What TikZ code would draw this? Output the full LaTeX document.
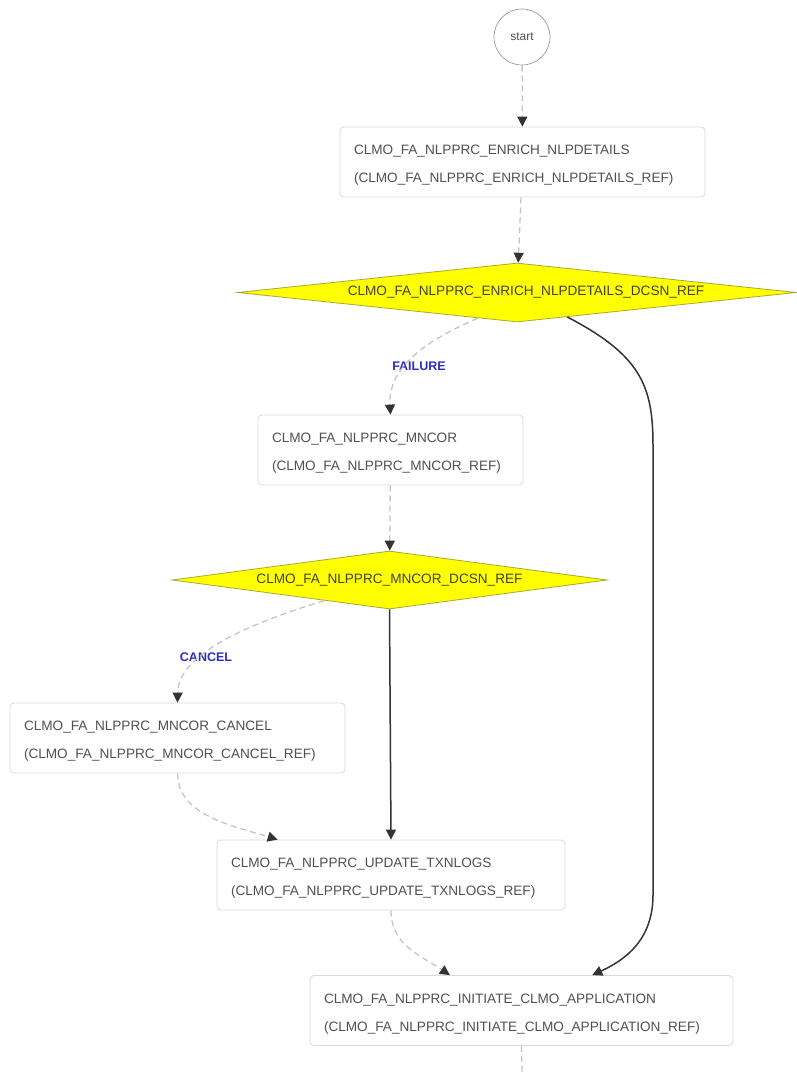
\documentclass[tikz,border=0pt]{standalone}
\usepackage{fontspec}
\setmainfont{Liberation Sans}
\usetikzlibrary{shapes.geometric,arrows.meta,calc}
\definecolor{txtgray}{HTML}{505050}
\definecolor{boxline}{HTML}{DADADA}
\definecolor{dashgray}{HTML}{C4C4C4}
\definecolor{darkline}{HTML}{333333}
\definecolor{dyellow}{HTML}{FFFF00}
\definecolor{dborder}{HTML}{A8A830}
\definecolor{lblblue}{HTML}{2E2EC0}
\newcommand{\toplift}{\rule{0pt}{16pt}}
\tikzset{
  taskbox/.style={draw=boxline, line width=0.8pt, rounded corners=4pt, fill=white,
    minimum height=70pt, inner xsep=14pt, inner ysep=0pt, align=left,
    text=txtgray, font=\fontsize{13.6}{28}\selectfont},
  decision/.style={diamond, draw=dborder, line width=0.8pt, fill=dyellow, inner sep=0pt,
    aspect=9.5, text=txtgray!80!black, font=\fontsize{13.6}{16}\selectfont},
  startnode/.style={circle, draw=black!40, line width=0.7pt, minimum size=56pt, inner sep=0pt,
    text=txtgray, font=\fontsize{12}{14}\selectfont},
  tip/.style={-{Triangle[width=10pt,length=10pt,color=darkline]}},
  dashedge/.style={tip, draw=dashgray, line width=1.3pt, dash pattern=on 6pt off 4pt},
  solidedge/.style={tip, draw=darkline, line width=1.5pt},
  edgelabel/.style={text=lblblue, font=\bfseries\fontsize{12.5}{14}\selectfont},
}
\begin{document}
\begin{tikzpicture}[x=1pt,y=-1pt]
\useasboundingbox (0,0) rectangle (797,1074);
\node[startnode] (s) at (522,37) {start};
\node[taskbox, text width=337pt] (b1) at (522.5,162) {\toplift CLMO\_FA\_NLPPRC\_ENRICH\_NLPDETAILS\\(CLMO\_FA\_NLPPRC\_ENRICH\_NLPDETAILS\_REF)};
\node[decision, minimum width=559pt, minimum height=59pt] (d1) at (517,292.5) {\hspace*{18pt}CLMO\_FA\_NLPPRC\_ENRICH\_NLPDETAILS\_DCSN\_REF};
\node[taskbox, text width=237pt] (b2) at (390.5,450) {\toplift CLMO\_FA\_NLPPRC\_MNCOR\\(CLMO\_FA\_NLPPRC\_MNCOR\_REF)};
\node[decision, minimum width=435pt, minimum height=58pt] (d2) at (389.5,580) {CLMO\_FA\_NLPPRC\_MNCOR\_DCSN\_REF};
\node[taskbox, text width=307pt] (b3) at (177.5,738) {\toplift CLMO\_FA\_NLPPRC\_MNCOR\_CANCEL\\(CLMO\_FA\_NLPPRC\_MNCOR\_CANCEL\_REF)};
\node[taskbox, text width=320pt] (b4) at (391,875) {\toplift CLMO\_FA\_NLPPRC\_UPDATE\_TXNLOGS\\(CLMO\_FA\_NLPPRC\_UPDATE\_TXNLOGS\_REF)};
\node[taskbox, text width=395pt] (b5) at (521.5,1010.5) {\toplift CLMO\_FA\_NLPPRC\_INITIATE\_CLMO\_APPLICATION\\(CLMO\_FA\_NLPPRC\_INITIATE\_CLMO\_APPLICATION\_REF)};
\coordinate (endpt) at (522,1074);
\node[edgelabel] (lf) at (419,366) {FAILURE};
\node[edgelabel] (lc) at (206,657) {CANCEL};

\draw[dashedge] (s) -- (b1);
\draw[dashedge] (b1) -- (d1);
\draw[dashedge] ($(d1.south)!0.14!(d1.west)$) .. controls (420,343) and (388,370) .. (b2.north);
\draw[dashedge] (b2) -- (d2);
\draw[dashedge] ($(d2.south)!0.3!(d2.west)$) .. controls (228,630) and (178,660) .. (b3.north);
\draw[solidedge] (d2.south) -- (b4.north);
\draw[dashedge] (b3.south) .. controls (178,815) and (230,825) .. ($(b4.north west)!0.175!(b4.north east)$);
\draw[dashedge] (b4.south) .. controls (391,945) and (420,955) .. ($(b5.north west)!0.331!(b5.north east)$);
\draw[solidedge] ($(d1.south)!0.18!(d1.east)$) .. controls (640,355) and (653,385) .. (653,445)
  -- (653,895) .. controls (653,940) and (625,960) .. ($(b5.north west)!0.667!(b5.north east)$);
\draw[draw=dashgray, line width=1.3pt, dash pattern=on 6pt off 4pt] (b5.south) -- (endpt);
\end{tikzpicture}
\end{document}
